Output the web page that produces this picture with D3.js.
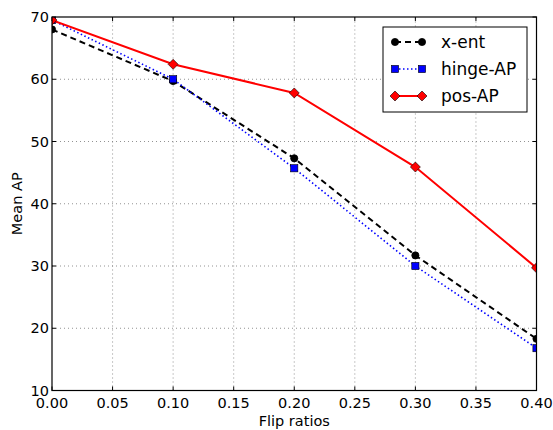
<!DOCTYPE html>
<html>
<head>
<meta charset="utf-8">
<script src="https://cdn.jsdelivr.net/npm/d3@7"></script>
<style>
  body { margin: 0; background: #fff; }
  svg text { font-family: "DejaVu Sans", sans-serif; }
</style>
</head>
<body>
<svg id="chart" width="553" height="430"></svg>
<script>
// data
var flipRatios = [0.0, 0.1, 0.2, 0.3, 0.4]
var xent = [68.0, 59.7, 47.3, 31.7, 18.3]
var hingeAP = [69.5, 60.0, 45.7, 30.0, 16.8]
var posAP = [69.5, 62.4, 57.8, 45.9, 29.7]
var xTicks = [0, 0.05, 0.1, 0.15, 0.2, 0.25, 0.3, 0.35, 0.4]
var yTicks = [10, 20, 30, 40, 50, 60, 70]

var series = [
  { name: "x-ent", values: xent, color: "black", dash: "6,4", width: 2, marker: "circle" },
  { name: "hinge-AP", values: hingeAP, color: "blue", dash: "1.5,2.5", width: 1.6, marker: "square" },
  { name: "pos-AP", values: posAP, color: "red", dash: null, width: 2, marker: "diamond" }
]

var margin = { left: 52, right: 16.5, top: 17, bottom: 39.5 }
var W = 553, H = 430
var svg = d3.select("#chart")

var x = d3.scaleLinear().domain([0, 0.4]).range([margin.left, W - margin.right])
var y = d3.scaleLinear().domain([10, 70]).range([H - margin.bottom, margin.top])

svg.append("clipPath").attr("id", "plotclip")
  .append("rect")
  .attr("x", x(0)).attr("y", y(70))
  .attr("width", x(0.4) - x(0)).attr("height", y(10) - y(70))

// grid
var grid = svg.append("g")
grid.selectAll(".vg").data(xTicks.slice(1, -1)).enter()
  .append("line")
  .attr("x1", d => x(d)).attr("x2", d => x(d))
  .attr("y1", y(10)).attr("y2", y(70))
  .attr("stroke", "#777").attr("stroke-width", 0.8).attr("stroke-dasharray", "1,3")
grid.selectAll(".hg").data(yTicks.slice(1, -1)).enter()
  .append("line")
  .attr("y1", d => y(d)).attr("y2", d => y(d))
  .attr("x1", x(0)).attr("x2", x(0.4))
  .attr("stroke", "#777").attr("stroke-width", 0.8).attr("stroke-dasharray", "1,3")

// inward ticks on all sides
var ticks = svg.append("g").attr("stroke", "black").attr("stroke-width", 1)
xTicks.forEach(function(t){
  ticks.append("line").attr("x1", x(t)).attr("x2", x(t)).attr("y1", y(10)).attr("y2", y(10) - 4)
  ticks.append("line").attr("x1", x(t)).attr("x2", x(t)).attr("y1", y(70)).attr("y2", y(70) + 4)
})
yTicks.forEach(function(t){
  ticks.append("line").attr("y1", y(t)).attr("y2", y(t)).attr("x1", x(0)).attr("x2", x(0) + 4)
  ticks.append("line").attr("y1", y(t)).attr("y2", y(t)).attr("x1", x(0.4)).attr("x2", x(0.4) - 4)
})

// tick labels
svg.append("g").selectAll("text").data(xTicks).enter()
  .append("text")
  .attr("x", d => x(d)).attr("y", y(10) + 17)
  .attr("text-anchor", "middle").attr("font-size", 14.5)
  .text(d => d3.format(".2f")(d))
svg.append("g").selectAll("text").data(yTicks).enter()
  .append("text")
  .attr("x", x(0) - 3).attr("y", d => y(d) + 5)
  .attr("text-anchor", "end").attr("font-size", 14.5)
  .text(d => d)

svg.append("text").attr("x", (x(0) + x(0.4)) / 2).attr("y", 426)
  .attr("text-anchor", "middle").attr("font-size", 14.5).text("Flip ratios")
svg.append("text").attr("transform", "translate(22," + ((y(10) + y(70)) / 2) + ") rotate(-90)")
  .attr("text-anchor", "middle").attr("font-size", 14.5).text("Mean AP")

// markers
function drawMarker(g, kind, cx, cy, color){
  if(kind == "circle")
    g.append("circle").attr("cx", cx).attr("cy", cy).attr("r", 3.6).attr("fill", color).attr("stroke", "black").attr("stroke-width", 0.8)
  else if(kind == "square")
    g.append("rect").attr("x", cx - 3.6).attr("y", cy - 3.6).attr("width", 7.2).attr("height", 7.2).attr("fill", color).attr("stroke", "black").attr("stroke-width", 0.6)
  else
    g.append("path").attr("d", "M" + cx + "," + (cy - 5) + "L" + (cx + 5) + "," + cy + "L" + cx + "," + (cy + 5) + "L" + (cx - 5) + "," + cy + "Z")
      .attr("fill", color).attr("stroke", "black").attr("stroke-width", 0.6)
}

var plot = svg.append("g").attr("clip-path", "url(#plotclip)")
series.forEach(function(s){
  var line = d3.line().x((d, i) => x(flipRatios[i])).y(d => y(d))
  plot.append("path").datum(s.values)
    .attr("d", line).attr("fill", "none")
    .attr("stroke", s.color).attr("stroke-width", s.width)
    .attr("stroke-dasharray", s.dash)
  s.values.forEach(function(v, i){ drawMarker(plot, s.marker, x(flipRatios[i]), y(v), s.color) })
})

// frame
svg.append("rect").attr("x", x(0)).attr("y", y(70))
  .attr("width", x(0.4) - x(0)).attr("height", y(10) - y(70))
  .attr("fill", "none").attr("stroke", "black").attr("stroke-width", 1.2)

// legend
var lg = svg.append("g").attr("transform", "translate(383,27)")
lg.append("rect").attr("width", 144).attr("height", 85).attr("fill", "white").attr("stroke", "black").attr("stroke-width", 1)
series.forEach(function(s, i){
  var ly = 15 + i * 27
  lg.append("line").attr("x1", 12).attr("x2", 39).attr("y1", ly).attr("y2", ly)
    .attr("stroke", s.color).attr("stroke-width", s.width).attr("stroke-dasharray", s.dash)
  drawMarker(lg, s.marker, 12, ly, s.color)
  drawMarker(lg, s.marker, 39, ly, s.color)
  lg.append("text").attr("x", 58).attr("y", ly + 6).attr("font-size", 17).text(s.name)
})
</script>
</body>
</html>
